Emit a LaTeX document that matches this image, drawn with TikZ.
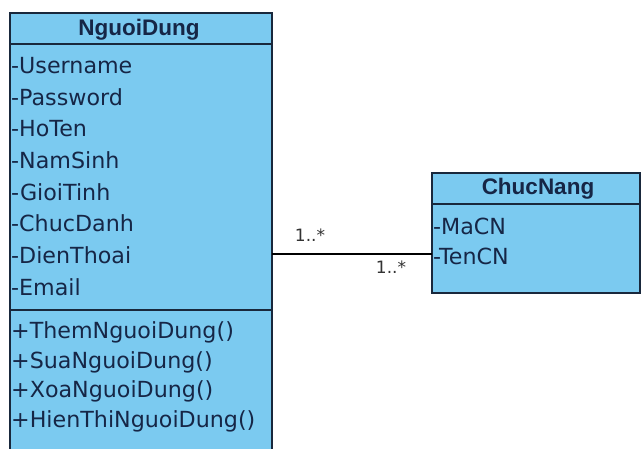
\documentclass[tikz,border=0pt]{standalone}
\usepackage{fontspec}
\setmainfont{DejaVu Sans}
\newfontfamily\titlefont{Liberation Sans}
\begin{document}
\begin{tikzpicture}[x=1pt,y=-1pt,
  classbox/.style={draw=boxline,fill=classfill,line width=1.3pt,inner sep=0pt,outer sep=0pt},
  divider/.style={draw=boxline,line width=1.3pt},
  member/.style={anchor=base west,inner sep=0pt,text=textcol,font=\fontsize{22.2}{25}\selectfont},
  classname/.style={inner sep=0pt,text=textcol,font=\titlefont\bfseries\fontsize{22.5}{26}\selectfont},
  mult/.style={inner sep=0pt,text=black!80,font=\fontsize{17}{20}\selectfont}]
\definecolor{classfill}{RGB}{123,202,240}
\definecolor{boxline}{RGB}{25,40,60}
\definecolor{textcol}{RGB}{22,38,70}
\useasboundingbox (0,0) rectangle (641,449);
\fill[white] (0,0) rectangle (641,449);
\begin{scope}
\clip (0,0) rectangle (641,449);
% class NguoiDung
\draw[classbox] (10,13) rectangle (272,470);
\draw[divider] (10,44) -- (272,44);
\draw[divider] (10,310) -- (272,310);
\node[classname] (nd) at (139,29.5) {NguoiDung};
\node[member] (a1) at (11,74) {-Username};
\node[member] (a2) at (11,105.5) {-Password};
\node[member] (a3) at (11,137) {-HoTen};
\node[member] (a4) at (11,169) {-NamSinh};
\node[member] (a5) at (11,200.5) {-GioiTinh};
\node[member] (a6) at (11,232) {-ChucDanh};
\node[member] (a7) at (11,264) {-DienThoai};
\node[member] (a8) at (11,296) {-Email};
\node[member] (m1) at (11,339) {+ThemNguoiDung()};
\node[member] (m2) at (11,368.5) {+SuaNguoiDung()};
\node[member] (m3) at (11,398) {+XoaNguoiDung()};
\node[member] (m4) at (11,428) {+HienThiNguoiDung()};
\coordinate (ndeast) at (272,254);
% class ChucNang
\draw[classbox] (432,173) rectangle (640,293);
\draw[divider] (432,204) -- (640,204);
\node[classname] (cn) at (538,188.5) {ChucNang};
\node[member] (b1) at (433,235) {-MaCN};
\node[member] (b2) at (433,265) {-TenCN};
\coordinate (cnwest) at (432,254);
% association with multiplicities at both ends
\draw[black,line width=1.2pt] (ndeast) -- (cnwest);
\node[mult] (ml) at (310,235) {1..*};
\node[mult] (mr) at (391,267) {1..*};
\end{scope}
\end{tikzpicture}
\end{document}
